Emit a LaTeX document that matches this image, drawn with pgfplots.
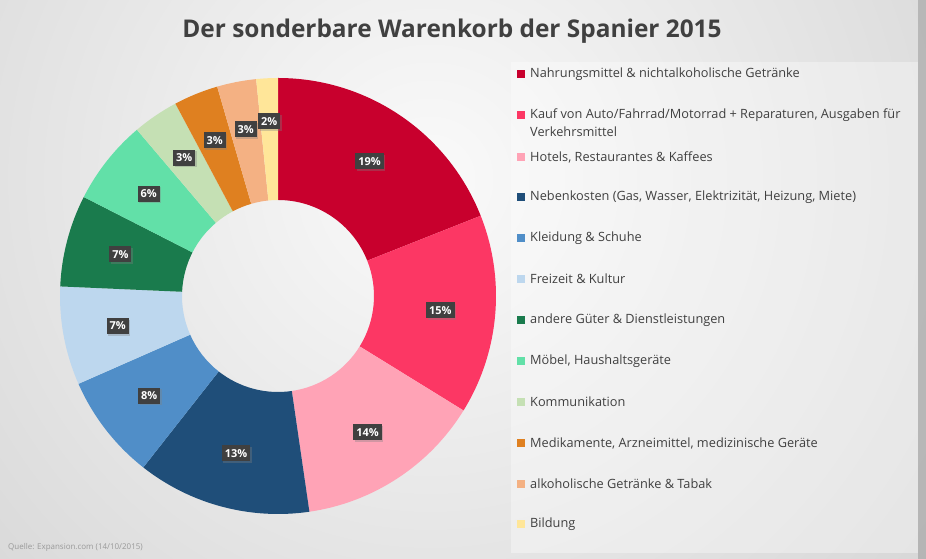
\documentclass[border=0pt]{standalone}
\usepackage{pgfplots}
\pgfplotsset{compat=1.18}
\usepackage{pgfplotstable}
\usepackage{fontspec}
\setmainfont{Open Sans}
\usetikzlibrary{shadows}
\definecolor{c1}{RGB}{200,0,45}
\definecolor{c2}{RGB}{252,55,100}
\definecolor{c3}{RGB}{255,163,182}
\definecolor{c4}{RGB}{31,78,121}
\definecolor{c5}{RGB}{80,142,200}
\definecolor{c6}{RGB}{189,215,238}
\definecolor{c7}{RGB}{26,123,77}
\definecolor{c8}{RGB}{98,224,168}
\definecolor{c9}{RGB}{197,224,180}
\definecolor{c10}{RGB}{223,128,32}
\definecolor{c11}{RGB}{244,177,131}
\definecolor{c12}{RGB}{255,230,153}
\definecolor{bgin}{RGB}{250,250,250}
\definecolor{bgout}{RGB}{186,186,186}
\definecolor{lbl}{RGB}{64,64,64}
\definecolor{ttl}{RGB}{64,64,64}
\definecolor{legtxt}{RGB}{64,64,64}

\pgfplotstableread{
val lab r col
19.0 19 163 c1
14.8 15 163 c2
13.9 14 163 c3
12.9 13 163 c4
7.8 8 163 c5
7.3 7 163 c6
6.8 7 163 c7
6.3 6 165 c8
3.4 3 167 c9
3.3 3 168 c10
2.9 3 170 c11
1.6 2 175 c12
}\donut

\begin{document}
\begin{tikzpicture}
\begin{axis}[at={(0,0)}, anchor=south west, scale only axis,
  width=926bp, height=559bp, xmin=0, xmax=926, ymin=0, ymax=559,
  hide axis, clip=false]
% background
\fill[bgout] (axis cs:0,0) rectangle (axis cs:926,559);
\begin{scope}
\clip (axis cs:0,0) rectangle (axis cs:926,559);
\shade[inner color=bgin, outer color=bgout] (axis cs:430,380) circle [radius=1150bp];
\end{scope}
\fill[gray!75, opacity=0.6] (axis cs:918,0) rectangle (axis cs:926,559);
% title
\node[font=\bfseries\fontsize{24.5}{28}\selectfont, text=ttl] at (axis cs:452,528) {Der sonderbare Warenkorb der Spanier 2015};
% donut slices
\xdef\cum{0}
\pgfplotsinvokeforeach{0,...,11}{
  \pgfplotstablegetelem{#1}{val}\of\donut \let\v\pgfplotsretval
  \pgfplotstablegetelem{#1}{col}\of\donut \let\c\pgfplotsretval
  \pgfmathsetmacro\a{90-3.6*\cum}
  \pgfmathsetmacro\tmp{\cum+\v}\xdef\cum{\tmp}
  \pgfmathsetmacro\b{90-3.6*\cum}
  \pgfmathsetmacro\xa{278+218*cos(\a)}
  \pgfmathsetmacro\ya{263+218*sin(\a)}
  \pgfmathsetmacro\xb{278+96*cos(\b)}
  \pgfmathsetmacro\yb{263+96*sin(\b)}
  \edef\doit{\noexpand\fill[\c] (axis cs:\xa,\ya) arc[start angle=\a, end angle=\b, radius=218bp] -- (axis cs:\xb,\yb) arc[start angle=\b, end angle=\a, radius=96bp] -- cycle;}
  \doit
}
% labels
\xdef\cum{0}
\pgfplotsinvokeforeach{0,...,11}{
  \pgfplotstablegetelem{#1}{val}\of\donut \let\v\pgfplotsretval
  \pgfplotstablegetelem{#1}{lab}\of\donut \let\l\pgfplotsretval
  \pgfplotstablegetelem{#1}{r}\of\donut \let\rr\pgfplotsretval
  \pgfmathsetmacro\m{90-3.6*(\cum+\v/2)}
  \pgfmathsetmacro\tmp{\cum+\v}\xdef\cum{\tmp}
  \pgfmathsetmacro\xm{278+\rr*cos(\m)}
  \pgfmathsetmacro\ym{263+\rr*sin(\m)}
  \edef\doit{\noexpand\node[fill=lbl, text=white, font=\noexpand\bfseries\noexpand\fontsize{11}{11}\noexpand\selectfont, inner xsep=3bp, minimum height=16bp, drop shadow={opacity=0.35, shadow xshift=1.5bp, shadow yshift=-1.5bp}] at (axis cs:\xm,\ym) {\l\noexpand\%};}
  \doit
}
% legend box
\fill[white, fill opacity=0.35] (axis cs:511,6) rectangle (axis cs:918,497);
\begin{scope}[every node/.style={anchor=west, inner sep=0pt, text=legtxt, font=\fontsize{12.8}{15}\selectfont}]
\fill[c1] (axis cs:517,481) rectangle (axis cs:525,489); \node at (axis cs:530,485) {Nahrungsmittel \& nichtalkoholische Getränke};
\fill[c2] (axis cs:517,440) rectangle (axis cs:525,448); \node at (axis cs:530,444) {Kauf von Auto/Fahrrad/Motorrad + Reparaturen, Ausgaben für};
\node at (axis cs:530,427) {Verkehrsmittel};
\fill[c3] (axis cs:517,398) rectangle (axis cs:525,406); \node at (axis cs:530,402) {Hotels, Restaurantes \& Kaffees};
\fill[c4] (axis cs:517,358) rectangle (axis cs:525,366); \node at (axis cs:530,362) {Nebenkosten (Gas, Wasser, Elektrizität, Heizung, Miete)};
\fill[c5] (axis cs:517,317) rectangle (axis cs:525,325); \node at (axis cs:530,321) {Kleidung \& Schuhe};
\fill[c6] (axis cs:517,276) rectangle (axis cs:525,284); \node at (axis cs:530,280) {Freizeit \& Kultur};
\fill[c7] (axis cs:517,235) rectangle (axis cs:525,243); \node at (axis cs:530,239) {andere Güter \& Dienstleistungen};
\fill[c8] (axis cs:517,194) rectangle (axis cs:525,202); \node at (axis cs:530,198) {Möbel, Haushaltsgeräte};
\fill[c9] (axis cs:517,153) rectangle (axis cs:525,161); \node at (axis cs:530,157) {Kommunikation};
\fill[c10] (axis cs:517,112) rectangle (axis cs:525,120); \node at (axis cs:530,116) {Medikamente, Arzneimittel, medizinische Geräte};
\fill[c11] (axis cs:517,71) rectangle (axis cs:525,79); \node at (axis cs:530,75) {alkoholische Getränke \& Tabak};
\fill[c12] (axis cs:517,31) rectangle (axis cs:525,39); \node at (axis cs:530,35) {Bildung};
\end{scope}
% source
\node[anchor=west, inner sep=0pt, text=gray!80, font=\fontsize{8}{9}\selectfont] at (axis cs:8,12) {Quelle: Expansion.com (14/10/2015)};
\end{axis}
\end{tikzpicture}
\end{document}
